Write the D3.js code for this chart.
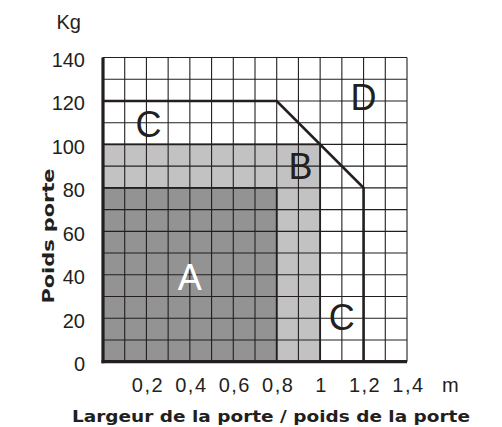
<!DOCTYPE html>
<html>
<head>
<meta charset="utf-8">
<script src="https://cdn.jsdelivr.net/npm/d3@7"></script>
<style>
  body { margin: 0; background: #fff; }
  svg { display: block; }
</style>
</head>
<body>
<div class="chart-container"></div>
<script>
"use strict";

// ticks
const xTicks = [0.2, 0.4, 0.6, 0.8, 1.0, 1.2, 1.4];
const yTicks = [0, 20, 40, 60, 80, 100, 120, 140];

// zones A and B (width in m, weight in kg)
const zoneNames = ["B", "A"];
const zoneWidth = [1.0, 0.8];
const zoneWeight = [100, 80];

// limit line of zone C
const limitX = [0, 0.8, 1.2, 1.2];
const limitY = [120, 120, 80, 0];

// letters in the zones
const letterText = ["A", "B", "C", "C", "D"];
const letterX = [0.40, 0.91, 0.21, 1.10, 1.20];
const letterY = [33, 84, 103.5, 14.5, 116];

const width = 502, height = 427;
const margin = { top: 57.5, right: 95, bottom: 65.3, left: 103 };

const x = d3.scaleLinear().domain([0, 1.4]).range([margin.left, width - margin.right]);
const y = d3.scaleLinear().domain([0, 140]).range([height - margin.bottom, margin.top]);

const svg = d3.select(".chart-container").append("svg")
  .attr("width", width)
  .attr("height", height);

const lineColor = "#231f20";
const fills = { A: "#939393", B: "#c2c2c2" };

// zones fill
svg.append("g").selectAll("rect")
  .data(zoneNames)
  .join("rect")
  .attr("x", x(0))
  .attr("y", (d, i) => y(zoneWeight[i]))
  .attr("width", (d, i) => x(zoneWidth[i]) - x(0))
  .attr("height", (d, i) => y(0) - y(zoneWeight[i]))
  .attr("fill", d => fills[d]);

// grid
const gridX = d3.range(0, 15).map(i => i / 10);
const gridY = d3.range(0, 15).map(i => i * 10);
const grid = svg.append("g")
  .attr("stroke", lineColor)
  .attr("stroke-width", 1.1);
grid.selectAll("line.v")
  .data(gridX)
  .join("line")
  .attr("class", "v")
  .attr("x1", d => x(d)).attr("x2", d => x(d))
  .attr("y1", y(0)).attr("y2", y(140));
grid.selectAll("line.h")
  .data(gridY)
  .join("line")
  .attr("class", "h")
  .attr("x1", x(0)).attr("x2", x(1.4))
  .attr("y1", d => y(d)).attr("y2", d => y(d));

// zone outlines
svg.append("g").selectAll("path")
  .data(zoneNames)
  .join("path")
  .attr("fill", "none")
  .attr("stroke", lineColor)
  .attr("stroke-width", 1.8)
  .attr("d", (d, i) => "M" + x(0) + "," + y(zoneWeight[i])
    + "H" + x(zoneWidth[i]) + "V" + y(0));

// limit line C
const limitLine = d3.line()
  .x(d => x(d[0]))
  .y(d => y(d[1]));
svg.append("path")
  .datum(limitX.map((v, i) => [v, limitY[i]]))
  .attr("fill", "none")
  .attr("stroke", lineColor)
  .attr("stroke-width", 2.6)
  .attr("d", limitLine);

// axes
const xAxis = d3.axisBottom(x).tickValues(xTicks).tickSize(0)
  .tickFormat(d => d3.format(".1~f")(d).replace(".", ","));
const yAxis = d3.axisLeft(y).tickValues(yTicks).tickSize(0);

const gx = svg.append("g")
  .attr("transform", "translate(0," + y(0) + ")")
  .call(xAxis);
gx.select(".domain").attr("stroke", lineColor).attr("stroke-width", 3.2)
  .attr("d", "M" + (x(0) - 1.5) + ",0H" + x(1.4));
gx.selectAll("text")
  .attr("y", 30)
  .attr("dy", 0)
  .attr("dx", 1)
  .attr("fill", lineColor)
  .style("letter-spacing", "1.5px")
  .style("font", "20px 'Liberation Sans', Arial, sans-serif");

const gy = svg.append("g")
  .attr("transform", "translate(" + x(0) + ",0)")
  .call(yAxis);
gy.select(".domain").attr("stroke", lineColor).attr("stroke-width", 3.2)
  .attr("d", "M0," + y(140) + "V" + (y(0) + 1.5));
gy.selectAll("text")
  .attr("x", -18)
  .attr("dy", "0.45em")
  .attr("fill", lineColor)
  .style("font", "20px 'Liberation Sans', Arial, sans-serif");

// units
svg.append("text")
  .attr("x", x(1.6))
  .attr("y", y(0) + 30)
  .attr("text-anchor", "middle")
  .attr("fill", lineColor)
  .style("font", "20px 'Liberation Sans', Arial, sans-serif")
  .text("m");
svg.append("text")
  .attr("x", 56.5)
  .attr("y", 28.5)
  .attr("fill", lineColor)
  .style("font", "20px 'Liberation Sans', Arial, sans-serif")
  .text("Kg");

// axis titles (stretched to the width of the original Verdana text)
svg.append("text")
  .attr("x", 271)
  .attr("y", 421.5)
  .attr("text-anchor", "middle")
  .attr("textLength", 398)
  .attr("lengthAdjust", "spacingAndGlyphs")
  .attr("fill", lineColor)
  .style("font", "bold 16.5px 'DejaVu Sans', Verdana, sans-serif")
  .text("Largeur de la porte / poids de la porte");
svg.append("text")
  .attr("transform", "translate(54,236) rotate(-90)")
  .attr("text-anchor", "middle")
  .attr("textLength", 135)
  .attr("lengthAdjust", "spacingAndGlyphs")
  .attr("fill", lineColor)
  .style("font", "bold 16.5px 'DejaVu Sans', Verdana, sans-serif")
  .text("Poids porte");

// zone letters
svg.append("g").selectAll("text")
  .data(letterText)
  .join("text")
  .attr("x", (d, i) => x(letterX[i]))
  .attr("y", (d, i) => y(letterY[i]))
  .attr("text-anchor", "middle")
  .attr("fill", d => d === "A" ? "#fff" : lineColor)
  .style("font", "36px 'Liberation Sans', Arial, sans-serif")
  .text(d => d);
</script>
</body>
</html>
